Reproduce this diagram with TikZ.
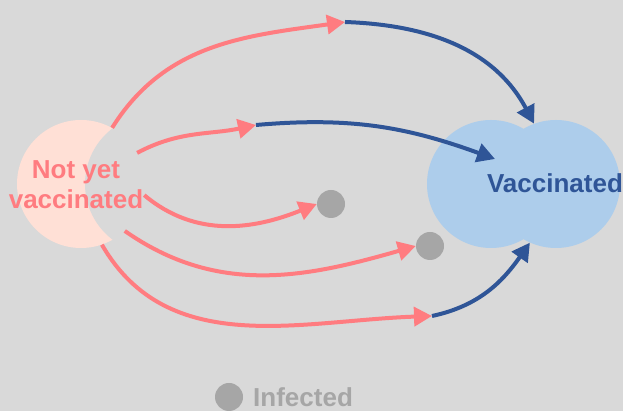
\documentclass[tikz,border=0pt]{standalone}
\usepackage{fontspec}
\setmainfont{Liberation Sans}
\usepackage{xcolor}
\usepackage{tikz}
\usetikzlibrary{arrows.meta, positioning, calc}
\definecolor{bgGray}{HTML}{D9D9D9}
\definecolor{notvaxPink}{HTML}{FFE0D6}
\definecolor{notvaxRed}{HTML}{FF7C80}
\definecolor{vaxLight}{HTML}{ADCDEB}
\definecolor{vaxDark}{HTML}{2F5597}
\definecolor{infGray}{HTML}{A6A6A6}
\tikzstyle{disc}     = [circle, draw=none, inner sep=0pt, minimum size=128pt]
\tikzstyle{flow}     = [-{Triangle[length=18pt, width=19pt]}, line width=4pt]

\begin{document}
\begin{tikzpicture}[
  x=1pt, y=1pt,
  big label/.style={font=\fontsize{26}{30}\selectfont\bfseries, align=center, inner sep=0pt},
  inf dot/.style={circle, fill=infGray, inner sep=0pt, minimum size=28pt},
  red flow/.style={flow, notvaxRed},
  blue flow/.style={flow, vaxDark}
]
  % Background
  \fill[bgGray] (0,0) rectangle (623,411);
  \useasboundingbox (0,0) rectangle (623,411);

  % States
  \node[disc, fill=notvaxPink] (notvax) at (81,227) {};
  \node[disc, fill=bgGray, minimum size=140pt] (cover) at (155,227) {};
  \node[disc, fill=vaxLight] (vaxA) at (491,227) {};
  \node[disc, fill=vaxLight] (vaxB) at (556,227) {};
  \node[big label, text=notvaxRed] (notvaxtext) at (76,226) {Not yet\\vaccinated};
  \node[big label, text=vaxDark] (vaxtext) at (555,228) {Vaccinated};

  % Infected
  \node[inf dot] (dotA) at (331,207) {};
  \node[inf dot] (dotB) at (430,165) {};
  \node[inf dot] (legdot) at (229,14) {};
  \node[big label, text=infGray, anchor=west] (legtext) at (253,14) {Infected};

  % Waypoints
  \coordinate (m1) at (345,389);
  \coordinate (m2) at (256,286);
  \coordinate (m3) at (432,95);
  \coordinate (vaxin) at (495,252);

  % Flows
  \draw[red flow] (notvax.61) to[out=58, in=188] (m1);
  \draw[blue flow] (m1) to[out=-2, in=118] (vaxB.110);
  \draw[red flow] (notvax.29) to[out=28, in=192] (m2);
  \draw[blue flow] (m2) to[out=5, in=160] (vaxin);
  \draw[red flow] (notvax.-10) to[out=-40, in=202] (dotA.west);
  \draw[red flow] (notvax.-47) to[out=-35, in=196] (dotB.west);
  \draw[red flow] (notvax.-71) to[out=-60, in=182] (m3);
  \draw[blue flow] (m3) to[out=12, in=235] (vaxB.246);

\end{tikzpicture}
\end{document}
